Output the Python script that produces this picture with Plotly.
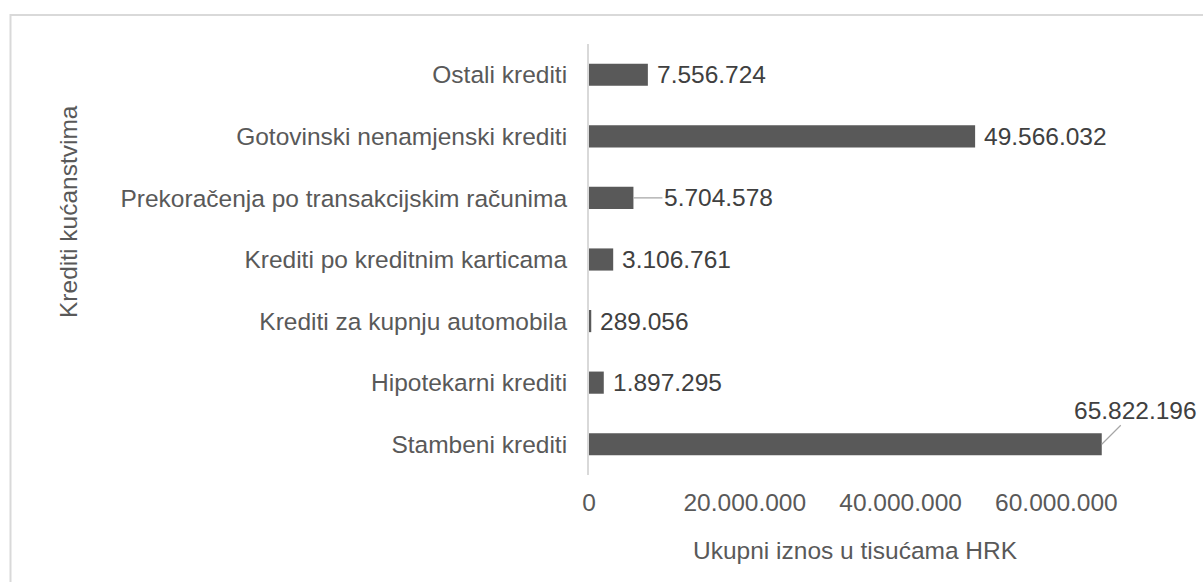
import plotly.graph_objects as go

# Data (bottom to top order as displayed)
categories = [
    "Stambeni krediti",
    "Hipotekarni krediti",
    "Krediti za kupnju automobila",
    "Krediti po kreditnim karticama",
    "Prekoračenja po transakcijskim računima",
    "Gotovinski nenamjenski krediti",
    "Ostali krediti",
]
values = [65822196, 1897295, 289056, 3106761, 5704578, 49566032, 7556724]
tick_vals = [0, 20000000, 40000000, 60000000]
tick_text = ["0", "20.000.000", "40.000.000", "60.000.000"]
x_title = "Ukupni iznos u tisućama HRK"
y_title = "Krediti kućanstvima"


def fmt(v):
    return f"{v:,}".replace(",", ".")


FONT = "Liberation Sans, Arial, sans-serif"
FS = 24.5
BAR = "#595959"
TXT = "#595959"
LBL = "#404040"

W, H = 1203, 582
L, R, T, B = 589, 3, 44, 107
plot_w = W - L - R
plot_h = H - T - B
px_per_unit = 7.79e-6
xmax = plot_w / px_per_unit

fig = go.Figure()
fig.add_trace(go.Bar(
    x=values, y=categories, orientation="h",
    marker=dict(color=BAR, line=dict(width=0)),
    width=0.36, hoverinfo="skip",
))

annotations = []
for cat, v in zip(categories, values):
    t = fmt(v)
    if cat.startswith("Prekora"):
        annotations.append(dict(
            x=v, y=cat, xref="x", yref="y", text=t, showarrow=True,
            arrowhead=0, arrowwidth=1.2, arrowcolor="#a6a6a6",
            ax=85, ay=0, standoff=0,
            font=dict(family=FONT, size=FS, color=LBL)))
    elif cat.startswith("Stambeni"):
        annotations.append(dict(
            x=v, y=cat, xref="x", yref="y", text=t, showarrow=True,
            arrowhead=0, arrowwidth=1.2, arrowcolor="#a6a6a6",
            ax=34, ay=-34, standoff=0,
            font=dict(family=FONT, size=FS, color=LBL)))
    else:
        annotations.append(dict(
            x=v, y=cat, xref="x", yref="y", text=t, showarrow=False,
            xanchor="left", yanchor="middle", xshift=7,
            font=dict(family=FONT, size=FS, color=LBL)))

# axis titles
annotations.append(dict(
    x=(855 - L) / plot_w, y=(H - B - 550) / plot_h, xref="paper", yref="paper",
    text=x_title, showarrow=False, xanchor="center", yanchor="middle",
    font=dict(family=FONT, size=FS, color=TXT)))
annotations.append(dict(
    x=(68 - L) / plot_w, y=(H - B - 212) / plot_h, xref="paper", yref="paper",
    text=y_title, showarrow=False, xanchor="center", yanchor="middle",
    textangle=-90, font=dict(family=FONT, size=FS, color=TXT)))

# chart border
shapes = [dict(
    type="rect", xref="paper", yref="paper",
    x0=(10.5 - L) / plot_w, x1=1.2,
    y0=-0.5, y1=(H - B - 15) / plot_h,
    line=dict(color="#d9d9d9", width=2), fillcolor="rgba(0,0,0,0)", layer="below")]

fig.update_layout(
    width=W, height=H,
    margin=dict(l=L, r=R, t=T, b=B, autoexpand=False),
    paper_bgcolor="white", plot_bgcolor="white",
    showlegend=False,
    bargap=0.64,
    font=dict(family=FONT, size=FS, color=TXT),
    annotations=annotations,
    shapes=shapes,
    xaxis=dict(
        range=[0, xmax], tickvals=tick_vals, ticktext=tick_text,
        showgrid=False, zeroline=False, showline=False,
        ticks="outside", ticklen=6, tickcolor="rgba(0,0,0,0)",
        tickfont=dict(family=FONT, size=FS, color=TXT),
        fixedrange=True,
    ),
    yaxis=dict(
        categoryorder="array", categoryarray=categories,
        range=[-0.5, len(categories) - 0.5],
        showgrid=False, zeroline=False,
        showline=True, linecolor="#d9d9d9", linewidth=2,
        ticks="outside", ticklen=15, tickcolor="rgba(0,0,0,0)",
        tickfont=dict(family=FONT, size=FS, color=TXT),
        fixedrange=True,
    ),
)

fig.write_html(
    "out.html",
    config={"displayModeBar": False},
    post_script="document.body.style.margin='0';document.body.style.overflow='hidden';",
)
